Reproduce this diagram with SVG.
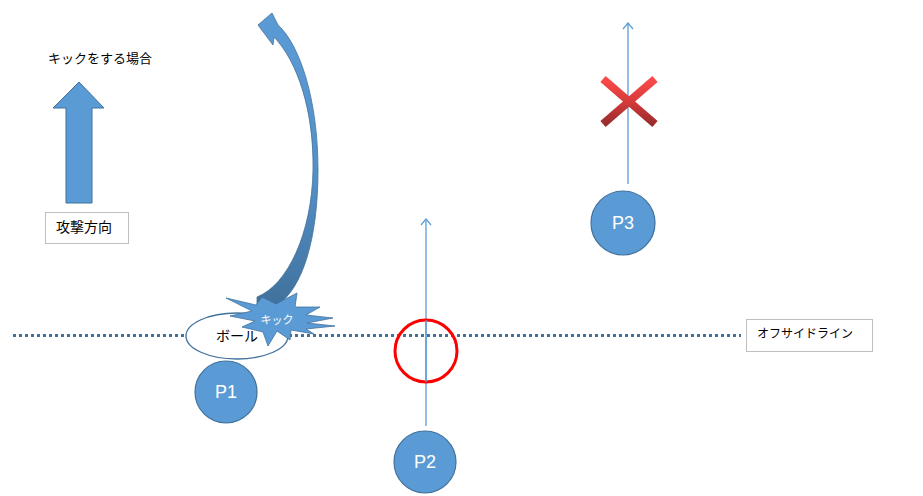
<svg xmlns="http://www.w3.org/2000/svg" width="923" height="496" viewBox="0 0 923 496">
<style>
.lbl{font-family:"Noto Sans CJK JP","Liberation Sans",sans-serif;fill:#000}
.box{fill:#fff;stroke:#bfbfbf;stroke-width:1}
.player{fill:#5b9bd5;stroke:#41719c;stroke-width:1.2}
.ptxt{font-family:"Liberation Sans",Arial,sans-serif;font-size:18px;fill:#fff;text-anchor:middle;dominant-baseline:central}
.run{stroke:#5b9bd5;stroke-width:1.3;fill:none;marker-end:url(#open)}
</style>
<defs>
<marker id="open" viewBox="0 0 12 12" refX="11" refY="6" markerWidth="12" markerHeight="12" markerUnits="userSpaceOnUse" orient="auto">
<path d="M5,1 L11,6 L5,11" fill="none" stroke="#5b9bd5" stroke-width="1.2"/>
</marker>
<linearGradient id="curveGrad" x1="0" y1="0" x2="0" y2="1">
<stop offset="0" stop-color="#5b9bd5"/>
<stop offset="0.55" stop-color="#5390c8"/>
<stop offset="1" stop-color="#41719c"/>
</linearGradient>
<linearGradient id="xGrad" gradientUnits="userSpaceOnUse" x1="0" y1="77" x2="0" y2="126">
<stop offset="0" stop-color="#ff4b4b"/>
<stop offset="0.5" stop-color="#d63a3a"/>
<stop offset="1" stop-color="#952b2b"/>
</linearGradient>
</defs>

<g id="offside-line">
<line x1="13" y1="335.5" x2="741" y2="335.5" stroke="#41719c" stroke-width="3" stroke-dasharray="3 3"/>
</g>

<g id="title">
<text class="lbl" x="48" y="63" font-size="13">キックをする場合</text>
</g>

<g id="attack-arrow">
<path d="M79,82 L104,108 L92,108 L92,203 L66,203 L66,108 L53,108 Z" fill="#5b9bd5" stroke="#41719c" stroke-width="1"/>
</g>

<g id="attack-label">
<rect class="box" x="45.5" y="212.5" width="83" height="31"/>
<text class="lbl" x="56" y="232" font-size="14">攻撃方向</text>
</g>

<g id="offside-label">
<rect class="box" x="746.5" y="319.5" width="126" height="32"/>
<text class="lbl" x="757" y="338" font-size="12">オフサイドライン</text>
</g>

<g id="connectors">
<line class="run" x1="426" y1="426" x2="426" y2="219"/>
<line class="run" x1="628" y1="184" x2="628" y2="23"/>
</g>

<g id="kick-curve">
<path d="M278,25 C300,45 318,100 318,170 C318,240 302,290 276,306 L257,307 L257,297 C288,285 312,232 313,170 C314,112 298,62 274,37 L273,45 L258,25 L272,13 Z" fill="url(#curveGrad)" stroke="#41719c" stroke-width="0.8"/>
</g>

<g id="ball">
<ellipse cx="237" cy="336" rx="51" ry="23" fill="#fff" stroke="#41719c" stroke-width="1.3"/>
<text class="lbl" x="237" y="341" font-size="14" text-anchor="middle">ボール</text>
</g>

<g id="kick">
<path d="M226,298 L256,305 L262,297 L276,304 L297,293 L295,307 L320,307 L306,315 L333,318 L307,323 L335,326 L306,329 L314,334 L291,330 L290,340 L277,331 L268,346 L263,332 L242,327 L255,321 L230,316 L252,311 Z" fill="#5b9bd5" stroke="#41719c" stroke-width="0.8"/>
<text x="277" y="324" font-size="11" text-anchor="middle" font-family="Noto Sans CJK JP,Liberation Sans,sans-serif" fill="#fff">キック</text>
</g>

<g id="ok-mark">
<circle cx="426" cy="351" r="31" fill="none" stroke="#ff0000" stroke-width="3"/>
</g>
<line x1="426" y1="320" x2="426" y2="382" stroke="#5b9bd5" stroke-width="1.3"/>

<g id="ng-mark">
<line x1="603" y1="79" x2="655" y2="124" stroke="url(#xGrad)" stroke-width="8"/>
<line x1="655" y1="79" x2="603" y2="124" stroke="url(#xGrad)" stroke-width="8"/>
</g>

<g id="P1">
<circle class="player" cx="226" cy="392" r="31"/>
<text class="ptxt" x="226" y="392">P1</text>
</g>
<g id="P2">
<circle class="player" cx="425" cy="462" r="31"/>
<text class="ptxt" x="425" y="462">P2</text>
</g>
<g id="P3">
<circle class="player" cx="623" cy="223" r="32"/>
<text class="ptxt" x="623" y="223">P3</text>
</g>
</svg>
